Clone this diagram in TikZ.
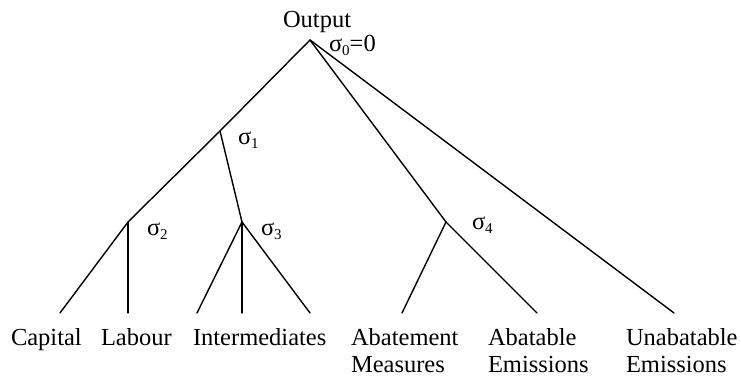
\documentclass[tikz,border=0pt]{standalone}
\usepackage{fontspec}
\setmainfont{Liberation Serif}
\newcommand{\sgsub}[1]{\raisebox{-3.5pt}{\fontsize{15}{15}\selectfont #1}}
\begin{document}
\begin{tikzpicture}[x=1pt,y=-1pt,
  branch/.style={line width=1.4pt,line cap=round,line join=round},
  lbl/.style={inner sep=0pt,outer sep=0pt,anchor=base west,font=\fontsize{24.5}{27}\selectfont},
  sig/.style={inner sep=0pt,outer sep=0pt,anchor=base west,font=\fontsize{24.5}{27}\selectfont}]
\useasboundingbox (0,0) rectangle (741,379);
% junction points
\coordinate (A) at (310,40);
\coordinate (n1) at (220,131);
\coordinate (n2) at (128,222);
\coordinate (n3) at (242,222);
\coordinate (n4) at (446,222);
% leaf ends
\coordinate (cap) at (60,313);
\coordinate (lab) at (128,313);
\coordinate (i1) at (197,313);
\coordinate (i2) at (242,313);
\coordinate (i3) at (310,313);
\coordinate (am) at (402,313);
\coordinate (ae) at (537,313);
\coordinate (ue) at (674,313);
% connectors
\draw[branch] (A) -- (n1) -- (n2) -- (cap);
\draw[branch] (n2) -- (lab);
\draw[branch] (n1) -- (n3);
\draw[branch] (n3) -- (i1);
\draw[branch] (n3) -- (i2);
\draw[branch] (n3) -- (i3);
\draw[branch] (A) -- (n4) -- (ae);
\draw[branch] (n4) -- (am);
\draw[branch] (A) -- (ue);
% labels
\node[lbl] (out) at (283,28) {Output};
\node[sig] (s0) at (329,52) {σ\sgsub{0}=0};
\node[sig] (s1) at (238,145) {σ\sgsub{1}};
\node[sig] (s2) at (147,236) {σ\sgsub{2}};
\node[sig] (s3) at (261,236) {σ\sgsub{3}};
\node[sig] (s4) at (472,230) {σ\sgsub{4}};
\node[lbl] (tcap) at (11,345) {Capital};
\node[lbl] (tlab) at (101,345) {Labour};
\node[lbl] (tint) at (193,345) {Intermediates};
\node[lbl] (tam1) at (351,345) {Abatement};
\node[lbl] (tam2) at (351,372) {Measures};
\node[lbl] (tae1) at (488,345) {Abatable};
\node[lbl] (tae2) at (488,372) {Emissions};
\node[lbl] (tue1) at (626,345) {Unabatable};
\node[lbl] (tue2) at (626,372) {Emissions};
\end{tikzpicture}
\end{document}
